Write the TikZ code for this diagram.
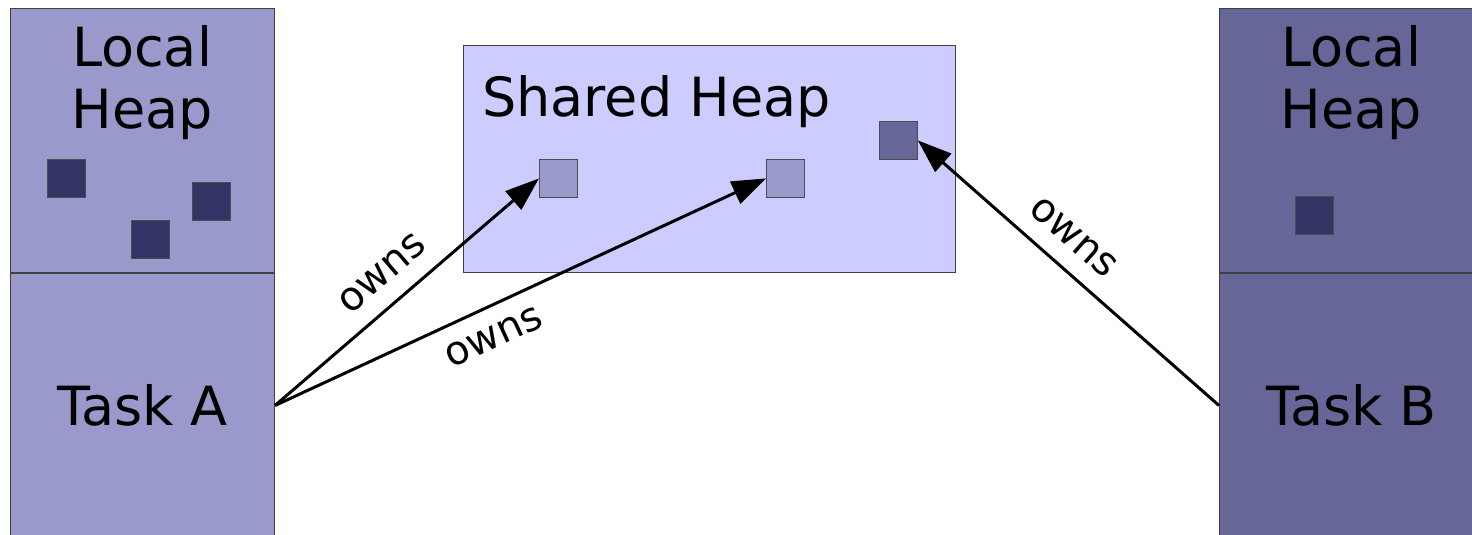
\documentclass[tikz,border=0pt]{standalone}
\usepackage{fontspec}
\setmainfont{DejaVu Sans}
\usetikzlibrary{positioning,arrows.meta}

\definecolor{taskAfill}{HTML}{9999CC}
\definecolor{taskBfill}{HTML}{666699}
\definecolor{sharedfill}{HTML}{CCCCFF}
\definecolor{objfill}{HTML}{333366}

\tikzset{
  region/.style={draw=black!75, line width=1pt, inner sep=0pt, anchor=north west,
    minimum width=264pt, minimum height=264pt},
  obj/.style={draw=black!70, line width=0.8pt, inner sep=0pt, anchor=north west,
    minimum size=38pt},
  bigtext/.style={font=\fontsize{54}{62}\selectfont, inner sep=0pt},
  owns/.style={line width=3pt, -{Triangle[length=34pt,width=24pt]}},
  ownslabel/.style={font=\fontsize{40}{44}\selectfont, sloped, inner sep=17pt}
}

\begin{document}
\begin{tikzpicture}[x=1pt,y=-1pt]
    \useasboundingbox (0,0) rectangle (1472,535);
    \clip (0,0) rectangle (1472,535);
    % task A
    \node[region, fill=taskAfill] (heapA) at (10,8) {};
    \node[region, fill=taskAfill] (taskA) at (heapA.south west) {};
    \node[bigtext, align=center, anchor=north] (heapAtext) at (142,25) {Local\\Heap};
    \node[bigtext] (taskAtext) at (taskA.center) {Task A};
    \node[obj, fill=objfill] (objA1) at (47,159) {};
    \node[obj, fill=objfill] (objA2) at (192,182) {};
    \node[obj, fill=objfill] (objA3) at (131,220) {};
    % task B
    \node[region, fill=taskBfill] (heapB) at (1219,8) {};
    \node[region, fill=taskBfill] (taskB) at (heapB.south west) {};
    \node[bigtext, align=center, anchor=north] (heapBtext) at (1351,25) {Local\\Heap};
    \node[bigtext] (taskBtext) at (taskB.center) {Task B};
    \node[obj, fill=objfill] (objB1) at (1295,196) {};
    % shared heap
    \node[region, fill=sharedfill, minimum width=492pt, minimum height=227pt] (shared) at (463,45) {};
    \node[bigtext, anchor=base west] (sharedtext) at (482,116) {Shared Heap};
    \node[obj, fill=taskAfill] (shared1) at (539,159) {};
    \node[obj, fill=taskAfill] (shared2) at (766,159) {};
    \node[obj, fill=taskBfill] (shared3) at (879,121) {};
    % ownership
    \draw[owns] (taskA.east) -- (shared1.west) node[ownslabel, pos=0.48, above] {owns};
    \draw[owns] (taskA.east) -- (shared2.west) node[ownslabel, pos=0.42, below] {owns};
    \draw[owns] (taskB.west) -- (shared3.east) node[ownslabel, pos=0.55, above] {owns};
\end{tikzpicture}
\end{document}
